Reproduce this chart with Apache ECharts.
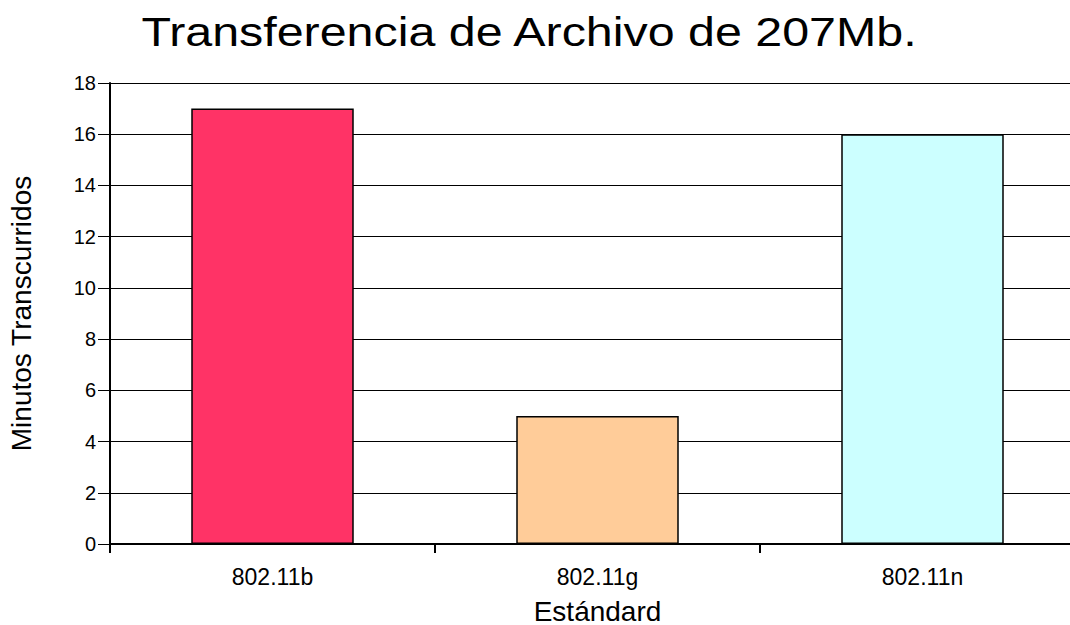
<!DOCTYPE html>
<html>
<head>
<meta charset="utf-8">
<script src="https://cdn.jsdelivr.net/npm/echarts@6/dist/echarts.min.js"></script>
<style>
html,body{margin:0;padding:0;background:#fff;overflow:hidden;}
#chart{width:1070px;height:625px;}
</style>
</head>
<body>
<div id="chart"></div>
<script>
const titleText = 'Transferencia de Archivo de 207Mb.';
const categories = ['802.11b', '802.11g', '802.11n'];
const minutos = [17, 5, 16];
const barColors = ['#FF3366', '#FFCC99', '#CCFFFF'];
const yTicks = [0, 2, 4, 6, 8, 10, 12, 14, 16, 18];
const xName = 'Estándard';
const yName = 'Minutos Transcurridos';

const FONT = '"Liberation Sans", Arial, sans-serif';
const chart = echarts.init(document.getElementById('chart'), null, {renderer: 'svg'});

chart.setOption({
  animation: false,
  backgroundColor: '#fff',
  graphic: [{
    type: 'text',
    x: 529,
    y: 32,
    scaleX: 1.18,
    style: {
      text: titleText,
      font: '41px ' + FONT,
      fill: '#000',
      align: 'center',
      verticalAlign: 'middle'
    }
  }],
  grid: {left: 110, top: 83, width: 975, height: 461, containLabel: false, outerBoundsMode: 'none'},
  xAxis: {
    type: 'category',
    data: categories,
    boundaryGap: true,
    name: xName,
    nameLocation: 'middle',
    nameGap: 55,
    nameTextStyle: {fontFamily: FONT, fontSize: 28, lineHeight: 24, color: '#000', verticalAlign: 'top'},
    axisLine: {show: true, lineStyle: {color: '#000', width: 2}},
    axisTick: {show: true, length: 9, alignWithLabel: false, lineStyle: {color: '#000', width: 2}},
    axisLabel: {fontFamily: FONT, fontSize: 23, color: '#000', margin: 21},
    splitLine: {show: false}
  },
  yAxis: {
    type: 'value',
    min: yTicks[0],
    max: yTicks[yTicks.length - 1],
    interval: yTicks[1] - yTicks[0],
    name: yName,
    nameLocation: 'middle',
    nameGap: 75,
    nameTextStyle: {fontFamily: FONT, fontSize: 28, color: '#000'},
    axisLine: {show: true, lineStyle: {color: '#000', width: 2}},
    axisTick: {show: true, length: 12, lineStyle: {color: '#000', width: 1}},
    axisLabel: {fontFamily: FONT, fontSize: 20, color: '#000', margin: 14},
    splitLine: {show: true, lineStyle: {color: '#000', width: 1}}
  },
  series: [{
    type: 'bar',
    barWidth: '50%',
    data: minutos.map((v, i) => ({
      value: v,
      itemStyle: {color: barColors[i], borderColor: '#000', borderWidth: 1.5}
    }))
  }]
});
</script>
</body>
</html>
